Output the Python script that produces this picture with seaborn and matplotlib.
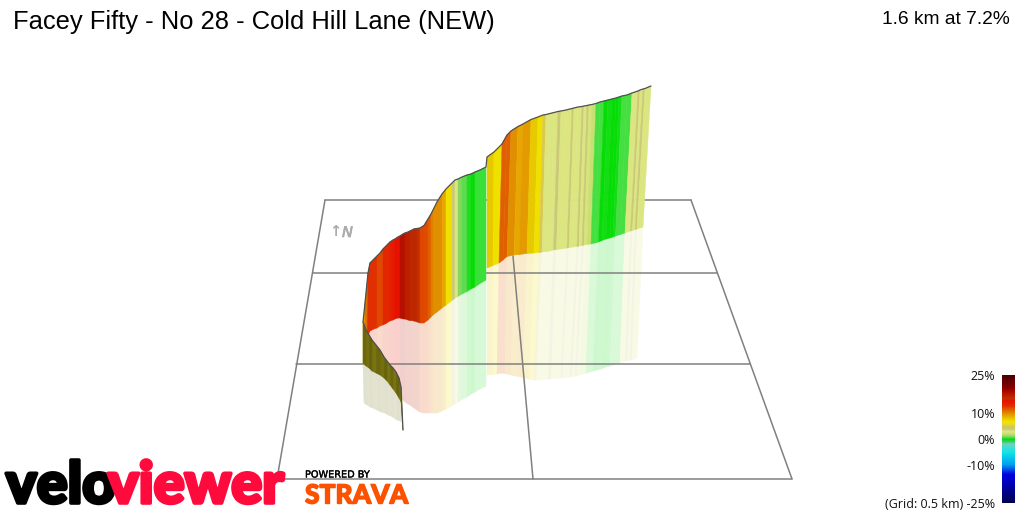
import numpy as np
import matplotlib
matplotlib.use("Agg")
import matplotlib.pyplot as plt
import matplotlib.patheffects as pe
from matplotlib.colors import LinearSegmentedColormap
from matplotlib.collections import PolyCollection
import seaborn as sns

TITLE = "Facey Fifty - No 28 - Cold Hill Lane (NEW)"
SUMMARY = "1.6 km at 7.2%"
CBAR_TICKS = [25, 10, 0, -10, -25]
CBAR_LABELS = ["25%", "10%", "0%", "-10%", "(Grid: 0.5 km) -25%"]

# gradient colour scale: grade in % -> colour
SCALE_GRADES = [-25, -18, -14, -10, -5, -2, -1, 0, 0.5, 1, 2, 3, 4, 5, 6, 7, 8, 9, 10, 12, 13, 15, 16, 18, 20, 25]
SCALE_COLOURS = ["#000050", "#0000b0", "#0000e0", "#00a0f0", "#10e8e8", "#70d0c0", "#30d060", "#00dc00",
                 "#40e040", "#80d860", "#c8e070", "#dce680", "#c8c878", "#d8c850", "#e8e020", "#f0e000", "#e8c800",
                 "#e8a800", "#e09000", "#e05000", "#e03000", "#e81000", "#c03000", "#b81000", "#8c0000", "#4a0000"]

# section 1: the first part of the climb, seen from the shaded side
s1_top_x = [403, 401, 399, 396, 393, 390, 387, 384, 380, 376, 372, 369, 366, 363]
s1_top_y = [430, 387, 378, 372, 368, 365, 361, 357, 350, 345, 340, 335, 330, 322]
s1_base_x = [403, 401, 399, 396, 393, 390, 387, 384, 380, 376, 372, 369, 366, 363]
s1_base_y = [430, 402, 398, 393, 389, 385, 381, 378, 375, 373, 371, 368, 366, 363]
s1_mirror_x = [403, 402, 400, 397, 394, 391, 388, 385, 381, 377, 373, 370, 367, 364]
s1_mirror_y = [430, 422, 421, 420, 418, 416, 415, 413, 412, 410, 408, 407, 405, 403]
s1_grade = [6, 6, 6, 6, 6, 6, 6, 6, 6, 6, 6, 6, 6]
s1_shade = [0.5, 0.5, 0.44, 0.52, 0.46, 0.52, 0.44, 0.5, 0.46, 0.52, 0.44, 0.5, 0.46]

# section 2: short turn
s2_top_x = [363, 365, 368, 370]
s2_top_y = [322, 303, 273, 263]
s2_base_x = [363, 364, 367, 370]
s2_base_y = [363, 350, 338, 331]
s2_mirror_x = [363, 364, 367, 370]
s2_mirror_y = [368, 368, 372, 374]
s2_grade = [8, 11, 13]

# section 3: steep middle
s3_top_x = [370, 374, 377, 380, 383, 386, 390, 393, 395, 398, 400, 403, 405, 408, 410, 414, 417, 420, 424, 428,
            431, 433, 437, 442, 446, 450, 452, 455, 458, 462, 467, 471, 475, 480, 486]
s3_top_y = [263, 259, 256, 253, 249, 246, 242, 240, 239, 237, 236, 234, 233, 232, 231, 229, 228.5, 228, 225.5, 219,
            214, 210, 202, 194, 189, 185, 183, 180, 179, 177, 175, 174, 172, 170, 167]
s3_base_y = [331, 329, 328, 326, 325, 323.5, 321, 320, 319, 318, 318, 319, 319, 320, 320.5, 321, 322, 323, 323, 320,
             317, 315, 312, 308, 305, 302, 300.5, 298, 296.5, 294, 291.5, 289, 287, 283.5, 280]
s3_mirror_y = [374, 378, 381, 384, 387, 389, 392, 394, 395, 397, 398, 400, 402, 404, 405, 408, 410, 412, 413, 413,
               413, 413, 413, 411, 409, 407, 405.5, 404, 402, 399.5, 397, 394, 392, 389, 386]
s3_grade = [13, 13, 12.3, 12.3, 13.5, 13.5, 14, 14.5, 15, 15, 18, 18, 17, 17, 16.5, 16.5, 16, 12.3, 12.2, 11.5,
            10.5, 10, 10, 9, 7, 7, 4, 3, 1, 0.7, 0.2, 0, 0.4, 0.4]

# section 4: last part to the summit
s4_top_x = [487, 494, 502, 507, 511, 518, 523, 531, 538, 543, 546, 550, 554, 558, 561, 566, 572, 574, 578, 582,
            584, 587, 589, 592, 596, 600, 604, 608, 612, 616, 619, 622, 627, 632, 638, 640, 643, 645, 651]
s4_top_y = [157, 152, 144, 135, 131, 126.5, 124, 119.5, 117, 115, 114.5, 113.5, 112.5, 111.5, 111, 110, 108.5, 108, 107, 106.5,
            106, 105.5, 105, 104.5, 103.5, 102, 101, 100, 99, 98, 97, 96, 95, 93, 91, 90, 89, 88.5, 86]
s4_base_x = [487, 493, 499, 503, 507, 514, 519, 527, 534, 539, 542, 546, 550, 553.5, 556.5, 561, 567, 569, 573, 577,
             579, 582, 584, 587, 591, 595, 598.5, 602, 606, 610, 613, 615.5, 620.5, 625, 630.5, 632.5, 635, 637, 643]
s4_base_y = [268, 265.5, 263, 260, 256.5, 255, 254.5, 253.5, 253, 252.5, 252, 251.5, 251, 250, 249.5, 249, 248, 247.5, 247, 246.5,
             246, 245.5, 245, 244.5, 244, 243, 242, 240.5, 239, 238, 237, 236, 234.5, 233, 231, 230.5, 229.5, 229, 227]
s4_mirror_x = [487, 493, 497, 501, 505, 511, 516, 523, 529, 534, 536.5, 540, 544, 548, 551, 555, 561, 562.5, 566, 570,
               572, 575, 577, 580, 586, 590, 593, 597, 601, 604.5, 607.5, 610, 615, 620, 625.5, 627.5, 630, 632, 637]
s4_mirror_y = [375, 374.5, 374, 373, 373.5, 375, 376, 377.5, 379, 380, 380, 380, 379.5, 379, 379, 378.5, 378, 378, 377.5, 377,
               376.5, 376, 375.5, 375, 373, 372, 371, 370, 369, 367.5, 366.5, 366, 364.5, 363, 361, 360.5, 360, 359.5, 358]
s4_grade = [8, 7, 11.5, 11.5, 10, 9, 9.5, 8, 7, 5, 3, 3, 3, 4, 3, 3, 4, 3, 3, 4,
            3, 4, 2.7, 2, 0.5, 0.5, 0, 0.1, 0, 0.05, 0.1, 0.5, 0.5, 3, 4, 3, 4, 3]

# map grid
grid_top_y, grid_bottom_y = 200, 479
grid_rows_y = [273, 364]
grid_rows_left = [313, 296]
grid_rows_right = [717, 750]
grid_left = [325, 277]
grid_right = [691, 792]
grid_mid_x = [513, 533]
grid_mid_y = [256, 479]

GRID = "#808080"
OUTLINE = "#505050"
MIRROR_ALPHA = 0.2

sns.set_theme(style="white")
plt.rcParams["font.family"] = ["Liberation Sans", "DejaVu Sans"]

fig = plt.figure(figsize=(10.24, 5.12), dpi=100, facecolor="white")
ax = fig.add_axes([0, 0, 1, 1])
ax.set_xlim(0, 1024)
ax.set_ylim(512, 0)
ax.set_axis_off()

scale_pos = [(g + 25) / 50 for g in SCALE_GRADES]
cmap = LinearSegmentedColormap.from_list("grade", list(zip(scale_pos, SCALE_COLOURS)), N=512)


def grade_rgb(g, shade=1.0):
    return np.array(cmap((g + 25) / 50)[:3]) * shade


def strips(x0, y0, x1, y1, grades, shade, z, mirror=False):
    polys, cols = [], []
    for i, g in enumerate(grades):
        polys.append([(x0[i], y0[i]), (x0[i + 1], y0[i + 1]), (x1[i + 1], y1[i + 1]), (x1[i], y1[i])])
        c = grade_rgb(g, shade[i])
        if mirror:
            c = 1 - MIRROR_ALPHA * (1 - c)
        cols.append(c)
    ax.add_collection(PolyCollection(polys, facecolors=cols, edgecolors=cols, linewidths=0.35, zorder=z))


sections = [
    (s4_top_x, s4_top_y, s4_base_x, s4_base_y, s4_mirror_x, s4_mirror_y, s4_grade, [1.0] * len(s4_grade)),
    (s3_top_x, s3_top_y, s3_top_x, s3_base_y, s3_top_x, s3_mirror_y, s3_grade, [1.0] * len(s3_grade)),
    (s2_top_x, s2_top_y, s2_base_x, s2_base_y, s2_mirror_x, s2_mirror_y, s2_grade, [1.0] * len(s2_grade)),
    (s1_top_x, s1_top_y, s1_base_x, s1_base_y, s1_mirror_x, s1_mirror_y, s1_grade, s1_shade),
]
for k, (tx, ty, bx, by, mx, my, gr, sh) in enumerate(sections):
    strips(bx, by, mx, my, gr, sh, 1 + k * 0.01, mirror=True)
    strips(tx, ty, bx, by, gr, sh, 3 + k * 0.01)


def line(xs, ys, color, lw, z):
    sns.lineplot(x=xs, y=ys, ax=ax, color=color, linewidth=lw, sort=False, estimator=None,
                 legend=False, zorder=z)


# grid sits above the pale reflection, below the coloured wall
line([grid_left[0], grid_right[0]], [grid_top_y, grid_top_y], GRID, 1.1, 2)
line(grid_left, [grid_top_y, grid_bottom_y], GRID, 1.1, 2)
line(grid_right, [grid_top_y, grid_bottom_y], GRID, 1.1, 2)
line([grid_left[1], grid_right[1]], [grid_bottom_y, grid_bottom_y], GRID, 1.1, 2)
for yy, l, r in zip(grid_rows_y, grid_rows_left, grid_rows_right):
    line([l, r], [yy, yy], GRID, 1.1, 2)
line(grid_mid_x, grid_mid_y, GRID, 1.1, 2)

# road outline along the top of the wall
ridge_x = s1_top_x + s2_top_x[1:] + s3_top_x[1:] + s4_top_x
ridge_y = s1_top_y + s2_top_y[1:] + s3_top_y[1:] + s4_top_y
line(ridge_x, ridge_y, OUTLINE, 0.9, 4)

# text
ax.text(13, 22, TITLE, fontsize=18.35, color="black", ha="left", va="center", family="Liberation Sans")
ax.text(1010, 20, SUMMARY, fontsize=13.75, color="black", ha="right", va="center", family="Liberation Sans")
GREY_N = "#ababab"
ax.text(335, 232, "\u2191", fontsize=10.5, color=GREY_N, ha="center", va="center", family="DejaVu Sans", fontweight="bold")
ax.text(347.5, 232.5, "N", fontsize=10.5, color=GREY_N, ha="center", va="center", family="DejaVu Sans", style="italic",
        path_effects=[pe.withStroke(linewidth=0.5, foreground=GREY_N)])

# logo wordmarks
heavy = dict(family="Lato", fontweight="black", va="baseline", ha="left", fontsize=41.5)
ax.text(6, 503, "velo", color="black", path_effects=[pe.withStroke(linewidth=2.6, foreground="black")], **heavy)
ax.text(108, 503, "viewer", color="#ff0a3c", path_effects=[pe.withStroke(linewidth=2.6, foreground="#ff0a3c")], **heavy)
ax.text(305, 477.5, "POWERED BY", fontsize=7, color="black", family="DejaVu Sans", va="baseline", ha="left",
        path_effects=[pe.withStroke(linewidth=0.25, foreground="black")])
ax.text(305, 503.5, "STRAVA", fontsize=19, color="#fc5200", family="Lato", fontweight="black", va="baseline", ha="left",
        path_effects=[pe.withStroke(linewidth=1.0, foreground="#fc5200")])

# colour bar
bar = fig.add_axes([1002 / 1024, 1 - 503 / 512, 13 / 1024, 128 / 512])
levels = np.linspace(25, -25, 128)[:, None]
sns.heatmap(levels, ax=bar, cmap=cmap, vmin=-25, vmax=25, cbar=False, xticklabels=False, yticklabels=False)
bar.set_yticks([(25 - v) / 50 * 128 for v in CBAR_TICKS])
bar.set_yticklabels(CBAR_LABELS, rotation=0, fontsize=9, family="Open Sans", color="#101010")
bar.tick_params(axis="y", length=0, pad=5, left=False)
bar.set_xlabel("")
bar.set_ylabel("")

fig.savefig("out.png", dpi=100, facecolor="white")
